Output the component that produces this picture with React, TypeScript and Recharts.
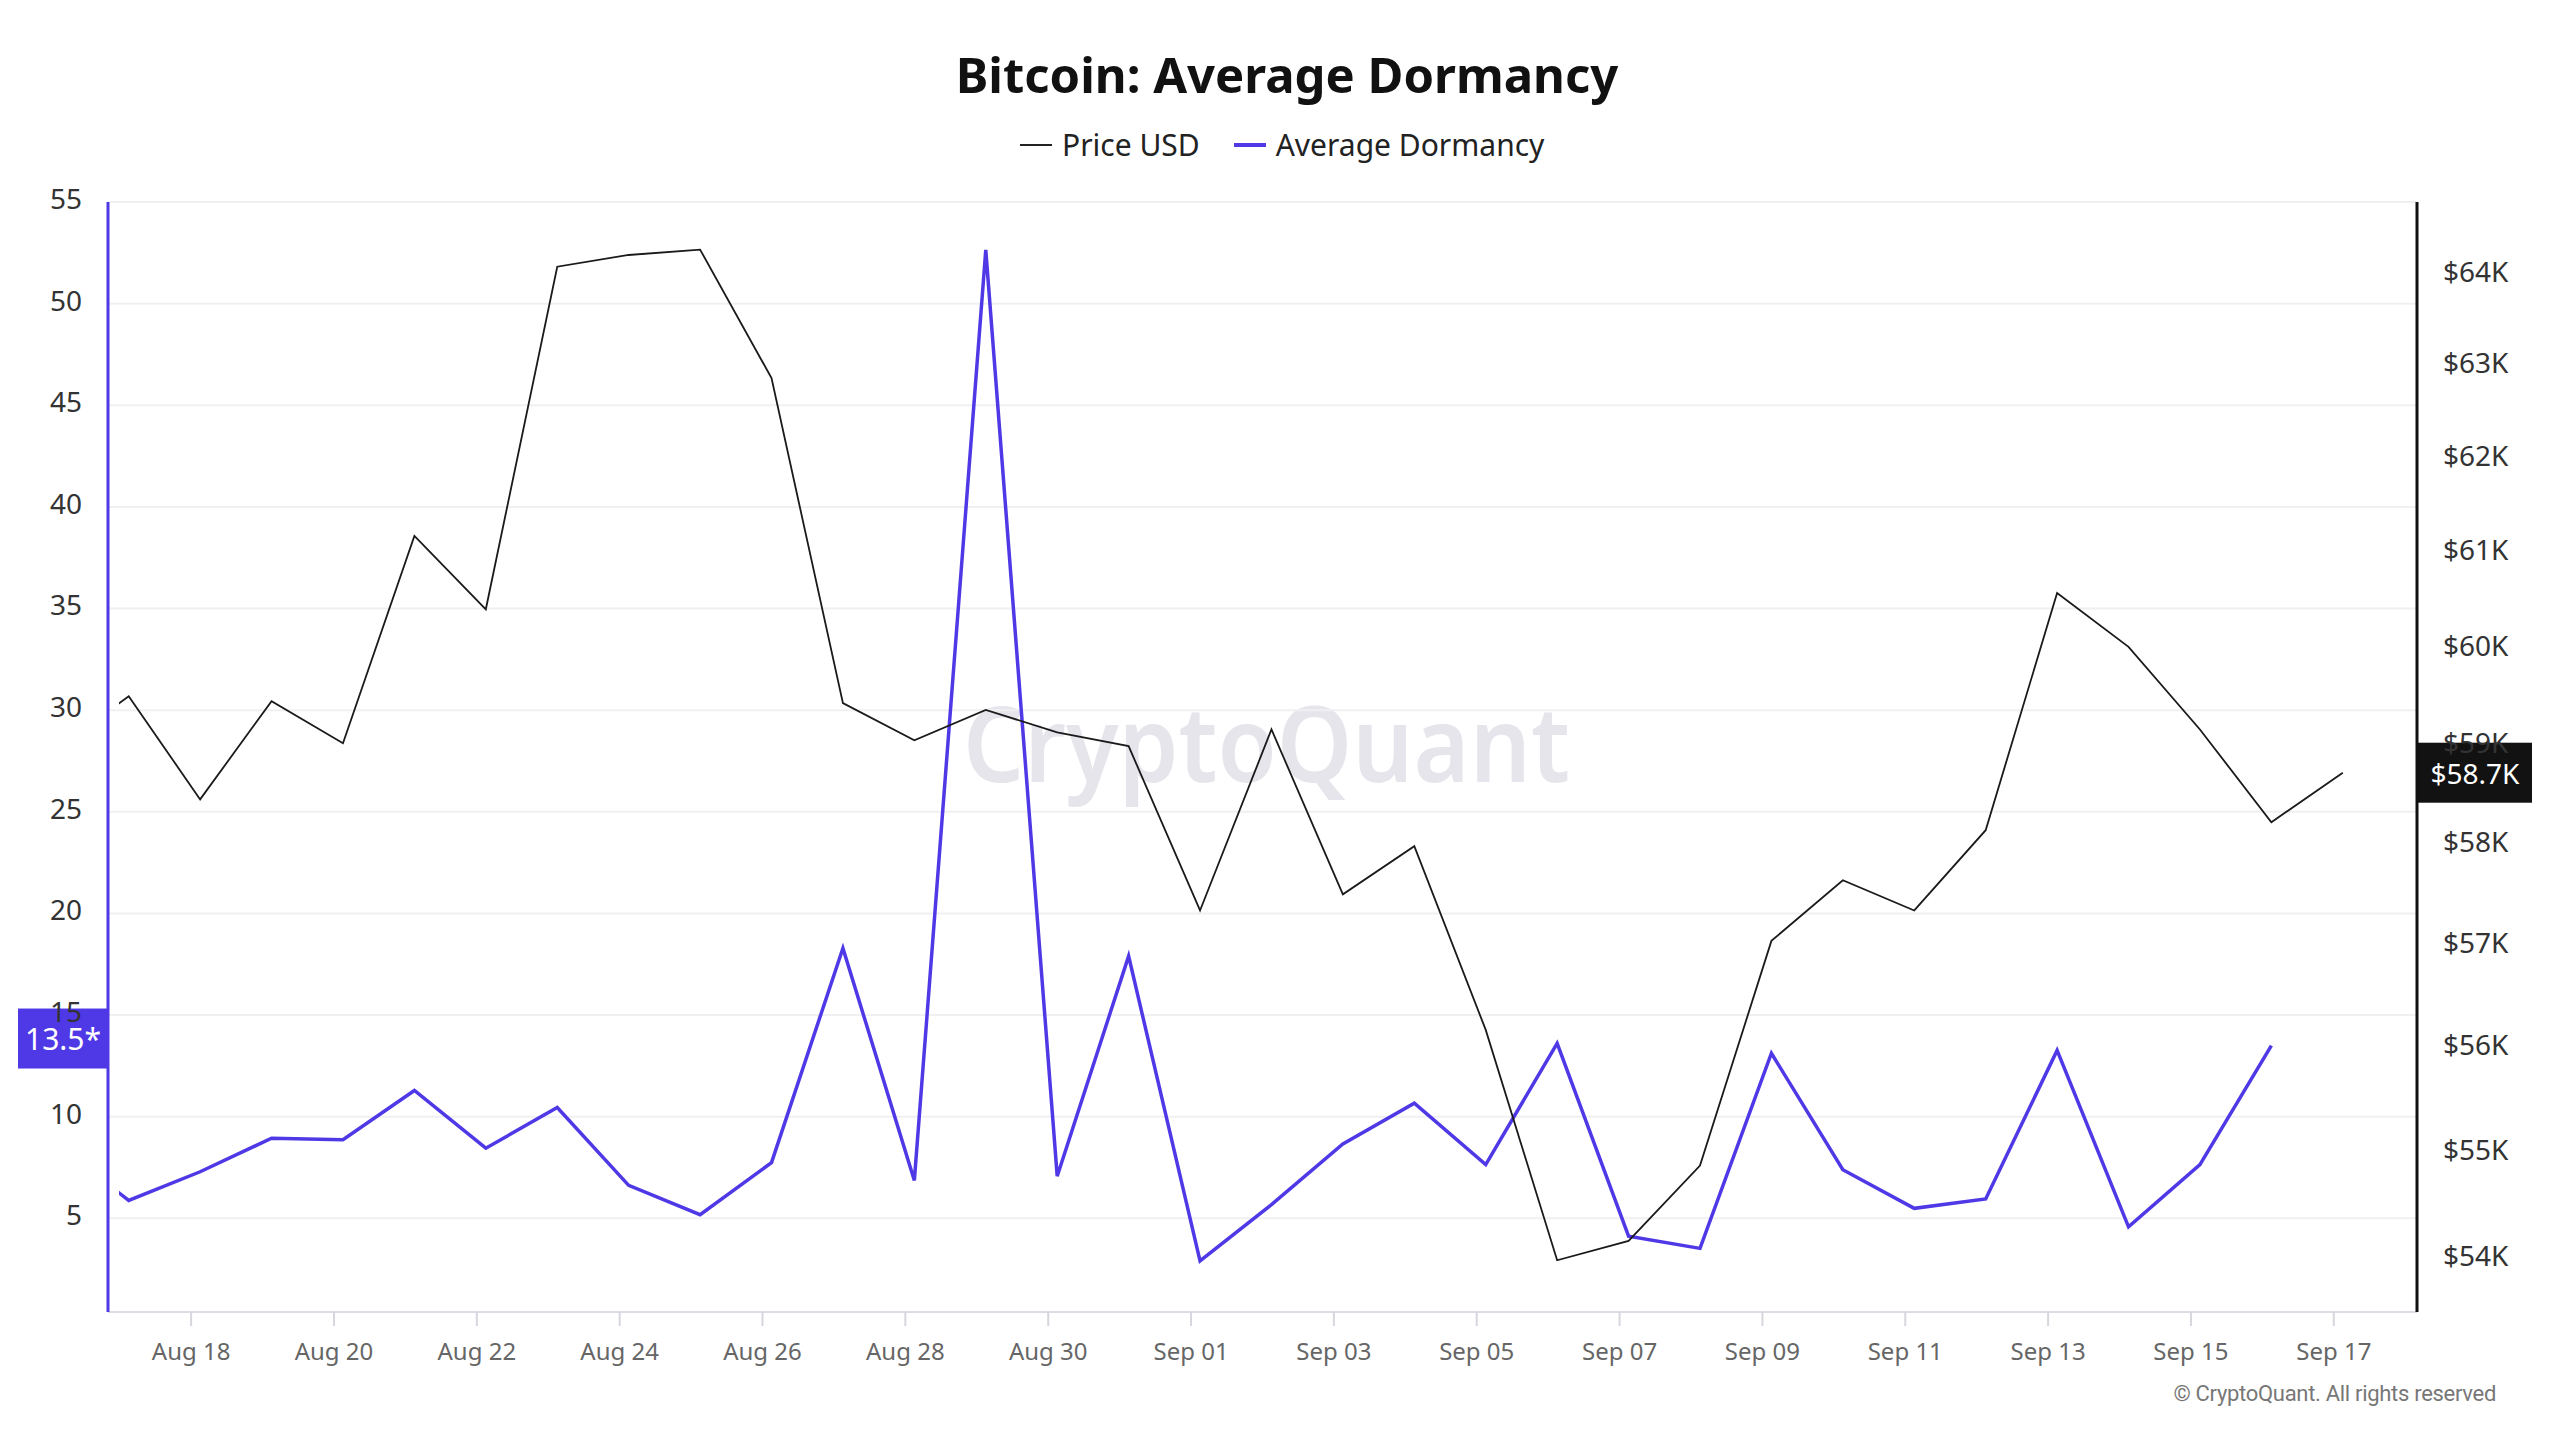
import React from 'react';
import { LineChart, Line, XAxis, YAxis, CartesianGrid, ReferenceLine } from 'recharts';

const DATES = [
  'Aug 16', 'Aug 17', 'Aug 18', 'Aug 19', 'Aug 20', 'Aug 21', 'Aug 22', 'Aug 23', 'Aug 24',
  'Aug 25', 'Aug 26', 'Aug 27', 'Aug 28', 'Aug 29', 'Aug 30', 'Aug 31', 'Sep 01', 'Sep 02',
  'Sep 03', 'Sep 04', 'Sep 05', 'Sep 06', 'Sep 07', 'Sep 08', 'Sep 09', 'Sep 10', 'Sep 11',
  'Sep 12', 'Sep 13', 'Sep 14', 'Sep 15', 'Sep 16', 'Sep 17',
];

const PRICE_USD = [
  58950, 59480, 58430, 59430, 59000, 61150, 60380, 64060, 64190,
  64250, 62840, 59410, 59030, 59340, 59110, 58970, 57320, 59140,
  57480, 57960, 56150, 53960, 54140, 54850, 57020, 57620, 57320,
  58120, 60550, 59990, 59140, 58200, 58700,
];

const AVG_DORMANCY = [
  8.6, 5.88, 7.29, 8.94, 8.87, 11.29, 8.45, 10.45, 6.62,
  5.18, 7.74, 18.29, 6.86, 52.64, 7.07, 17.9, 2.9, 5.67,
  8.66, 10.66, 7.64, 13.61, 4.12, 3.52, 13.12, 7.39, 5.49,
  5.95, 13.26, 4.58, 7.64, 13.5, null,
];

const DATE_TICK_LABELS = [
  'Aug 18', 'Aug 20', 'Aug 22', 'Aug 24', 'Aug 26', 'Aug 28', 'Aug 30', 'Sep 01',
  'Sep 03', 'Sep 05', 'Sep 07', 'Sep 09', 'Sep 11', 'Sep 13', 'Sep 15', 'Sep 17',
];
const DORMANCY_TICKS = [5, 10, 15, 20, 25, 30, 35, 40, 45, 50, 55];
const PRICE_TICKS = [54000, 55000, 56000, 57000, 58000, 59000, 60000, 61000, 62000, 63000, 64000];

// day ticks sit slightly before the daily points (midnight vs sample time)
const TICK_SHIFT = -0.126;

const PURPLE = '#4f39e6';
const FONT = '"Noto Sans", "Open Sans", sans-serif';

const data = DATES.map((date, i) => ({
  x: i,
  date,
  price: PRICE_USD[i],
  dormancy: AVG_DORMANCY[i],
}));

const dateTicks = DATE_TICK_LABELS.map((l) => DATES.indexOf(l) + TICK_SHIFT);
const xDomain = [DATES.indexOf('Aug 17') - 0.136, DATES.indexOf('Sep 17') + 0.885];

const lastDormancy = AVG_DORMANCY.filter((v) => v != null).slice(-1)[0] as number;
const lastPrice = PRICE_USD[PRICE_USD.length - 1];

const DormancyTag = (props: any) => {
  const { viewBox } = props;
  const left = Math.min(viewBox.x, viewBox.x + viewBox.width);
  const y = viewBox.y;
  return (
    <g>
      <rect x={left - 90} y={y - 37} width={89} height={60} fill={PURPLE} />
      <text x={left - 45} y={y - 7} textAnchor="middle" dominantBaseline="central" fill="#fff" fontSize={30} fontFamily={FONT}>
        {`${lastDormancy}*`}
      </text>
    </g>
  );
};

const PriceTag = (props: any) => {
  const { viewBox } = props;
  const right = Math.max(viewBox.x, viewBox.x + viewBox.width);
  const y = viewBox.y;
  return (
    <g>
      <rect x={right + 1} y={y - 30} width={114} height={60} fill="#121212" />
      <text x={right + 58} y={y} textAnchor="middle" dominantBaseline="central" fill="#fff" fontSize={28} fontFamily={FONT}>
        {`$${(lastPrice / 1000).toFixed(1)}K`}
      </text>
    </g>
  );
};

const LegendItem = ({ color, width, label }: { color: string; width: number; label: string }) => (
  <div style={{ display: 'flex', alignItems: 'center', marginRight: 34 }}>
    <div style={{ width: 32, height: width, background: color, marginRight: 10 }} />
    <span>{label}</span>
  </div>
);

const App = () => {
  return (
    <div
      style={{
        position: 'fixed',
        left: 0,
        top: 0,
        width: 2560,
        height: 1440,
        background: '#fff',
        overflow: 'hidden',
        fontFamily: FONT,
      }}
    >
      <div
        style={{
          position: 'absolute',
          top: 39,
          left: 0,
          width: 2574,
          textAlign: 'center',
          fontSize: 49,
          fontWeight: 700,
          color: '#111',
          lineHeight: '70px',
        }}
      >
        Bitcoin: Average Dormancy
      </div>
      <div
        style={{
          position: 'absolute',
          top: 121,
          left: 1020,
          display: 'flex',
          fontSize: 30,
          color: '#222',
          lineHeight: '48px',
        }}
      >
        <LegendItem color="#222" width={2} label="Price USD" />
        <LegendItem color={PURPLE} width={4} label="Average Dormancy" />
      </div>

      <svg style={{ position: 'absolute', left: 0, top: 0 }} width={2560} height={1440}>
        <text
          x={963}
          y={782}
          fontSize={104}
          fontWeight={600}
          fontFamily={FONT}
          fill="#e6e5ec"
          textLength={607}
          lengthAdjust="spacingAndGlyphs"
        >
          CryptoQuant
        </text>
      </svg>

      <div style={{ position: 'absolute', left: 0, top: 0 }}>
        <LineChart width={2560} height={1440} data={data} margin={{ top: 202, right: 0, bottom: 0, left: 0 }}>
          <CartesianGrid yAxisId="dorm" vertical={false} stroke="#f0f0f3" strokeWidth={2} />
          <XAxis
            dataKey="x"
            type="number"
            domain={xDomain}
            allowDataOverflow
            padding={{ left: 11, right: 11 }}
            ticks={dateTicks}
            interval={0}
            tickFormatter={(v: number) => DATES[Math.round(v - TICK_SHIFT)]}
            height={128}
            axisLine={{ stroke: '#dcdce5', strokeWidth: 2 }}
            tickLine={{ stroke: '#d6d6de', strokeWidth: 2 }}
            tickSize={14}
            tickMargin={17}
            tick={{ fontSize: 24, fill: '#666', fontFamily: FONT }}
          />
          <YAxis
            yAxisId="dorm"
            orientation="left"
            type="number"
            domain={[0.39, 55]}
            allowDataOverflow
            ticks={DORMANCY_TICKS}
            interval={0}
            width={108}
            axisLine={{ stroke: PURPLE, strokeWidth: 3 }}
            tickLine={false}
            tickSize={0}
            tickMargin={26}
            tick={{ fontSize: 28, fill: '#333', fontFamily: FONT, dy: -3 }}
          />
          <YAxis
            yAxisId="price"
            orientation="right"
            type="number"
            scale="log"
            domain={[53480, 64780]}
            allowDataOverflow
            ticks={PRICE_TICKS}
            interval={0}
            width={143}
            axisLine={{ stroke: '#111', strokeWidth: 3 }}
            tickLine={false}
            tickSize={0}
            tickMargin={26}
            tickFormatter={(v: number) => `$${v / 1000}K`}
            tick={{ fontSize: 28, fill: '#333', fontFamily: FONT }}
          />
          <Line
            yAxisId="dorm"
            dataKey="dormancy"
            type="linear"
            stroke={PURPLE}
            strokeWidth={3.5}
            dot={false}
            activeDot={false}
            isAnimationActive={false}
          />
          <Line
            yAxisId="price"
            dataKey="price"
            type="linear"
            stroke="#1a1a1a"
            strokeWidth={1.8}
            dot={false}
            activeDot={false}
            isAnimationActive={false}
          />
          <ReferenceLine yAxisId="dorm" y={lastDormancy} stroke="none" label={<DormancyTag />} />
          <ReferenceLine yAxisId="price" y={lastPrice} stroke="none" label={<PriceTag />} />
        </LineChart>
      </div>

      <div
        style={{
          position: 'absolute',
          right: 64,
          top: 1381,
          fontSize: 22,
          color: '#777',
          fontFamily: 'Roboto, sans-serif',
          letterSpacing: -0.3,
        }}
      >
        © CryptoQuant. All rights reserved
      </div>
    </div>
  );
};

export default App;
